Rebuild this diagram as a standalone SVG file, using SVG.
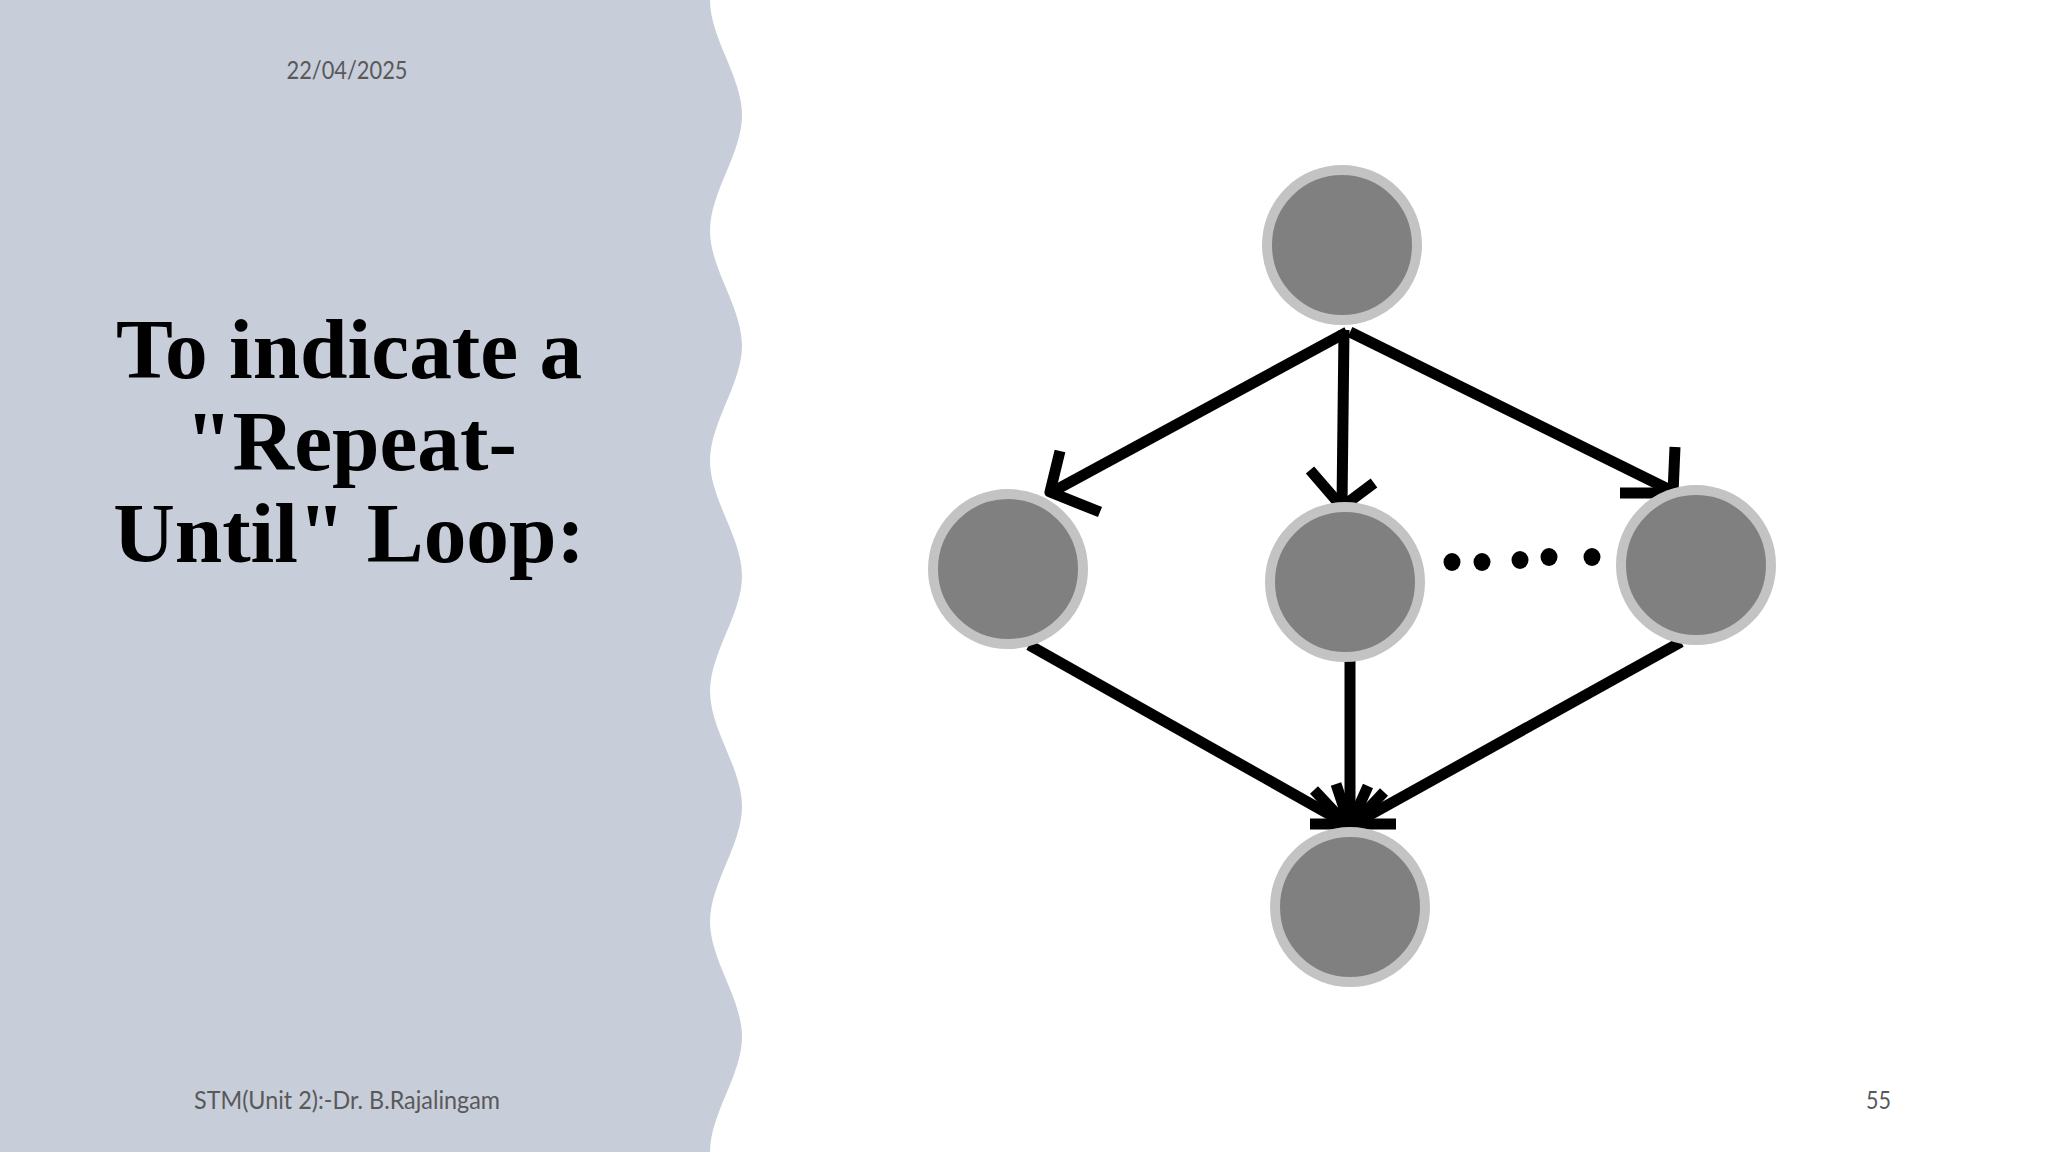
<svg xmlns="http://www.w3.org/2000/svg" width="2048" height="1152" viewBox="0 0 2048 1152">
  <style>
    .node circle { fill: #808080; stroke: #c3c3c3; stroke-width: 10; }
    .edge { fill: none; stroke: #000; stroke-width: 11; stroke-linecap: butt; stroke-linejoin: round; }
    .head { fill: none; stroke: #000; stroke-width: 11; stroke-linecap: butt; stroke-linejoin: round; }
    .dot { fill: #000; }
    .title { font-family: "Liberation Serif", "Times New Roman", serif; font-weight: bold; font-size: 85.33px; fill: #000; text-anchor: middle; }
    .meta { font-family: Lato, "Liberation Sans", sans-serif; font-size: 25.6px; fill: #595959; }
  </style>
  <rect x="0" y="0" width="2048" height="1152" fill="#ffffff"/>
  <path id="panel" fill="#c8cdda" d="M0,0 L710,0 C710,38.4 742,76.8 742,115.2 S710,192 710,230.4 S742,307.2 742,345.6 S710,422.4 710,460.8 S742,537.6 742,576 S710,652.8 710,691.2 S742,768 742,806.4 S710,883.2 710,921.6 S742,998.4 742,1036.8 S710,1113.6 710,1152 L0,1152 Z"/>

  <text id="date" class="meta" x="347" y="79" text-anchor="middle" textLength="121" lengthAdjust="spacingAndGlyphs">22/04/2025</text>

  <g id="title">
    <text class="title" x="349" y="378">To indicate a</text>
    <text class="title" x="351" y="470">"Repeat-</text>
    <text class="title" x="349" y="562">Until" Loop:</text>
  </g>

  <g id="connectors">
    <line class="edge" x1="1347" y1="332" x2="1052" y2="492"/>
    <polyline class="head" points="1060,451 1050,492 1100,512"/>
    <line class="edge" x1="1344" y1="330" x2="1342" y2="505"/>
    <polyline class="head" points="1310,470 1342,507 1374,483"/>
    <line class="edge" x1="1350" y1="332" x2="1672" y2="491"/>
    <polyline class="head" points="1675,447 1673,493 1620,493"/>
    <line class="edge" x1="1029" y1="645" x2="1350" y2="826"/>
    <line class="edge" x1="1350" y1="658" x2="1350" y2="826"/>
    <line class="edge" x1="1681" y1="642" x2="1350" y2="826"/>
    <polyline class="head" points="1336,784 1350,826 1368,786"/>
    <polyline class="head" points="1314,790 1346,824"/>
    <polyline class="head" points="1384,792 1354,824"/>
    <line class="head" x1="1310" y1="824" x2="1396" y2="824"/>
  </g>

  <g id="n1" class="node"><circle cx="1342" cy="245" r="75"/></g>
  <g id="n2" class="node"><circle cx="1008" cy="569" r="75"/></g>
  <g id="n3" class="node"><circle cx="1345" cy="582" r="75"/></g>
  <g id="n4" class="node"><circle cx="1696" cy="565" r="75"/></g>
  <g id="n5" class="node"><circle cx="1350" cy="907" r="75"/></g>

  <g id="ellipsis">
    <ellipse class="dot" cx="1452" cy="562" rx="8.5" ry="9"/>
    <ellipse class="dot" cx="1482" cy="562" rx="8.5" ry="9"/>
    <ellipse class="dot" cx="1520" cy="560" rx="8.5" ry="9"/>
    <ellipse class="dot" cx="1549" cy="557" rx="8.5" ry="9"/>
    <ellipse class="dot" cx="1592" cy="557" rx="8.5" ry="9"/>
  </g>

  <text id="footer" class="meta" x="194" y="1109" textLength="306" lengthAdjust="spacingAndGlyphs">STM(Unit 2):-Dr. B.Rajalingam</text>
  <text id="page" class="meta" x="1891" y="1109" text-anchor="end" textLength="25" lengthAdjust="spacingAndGlyphs">55</text>
</svg>
